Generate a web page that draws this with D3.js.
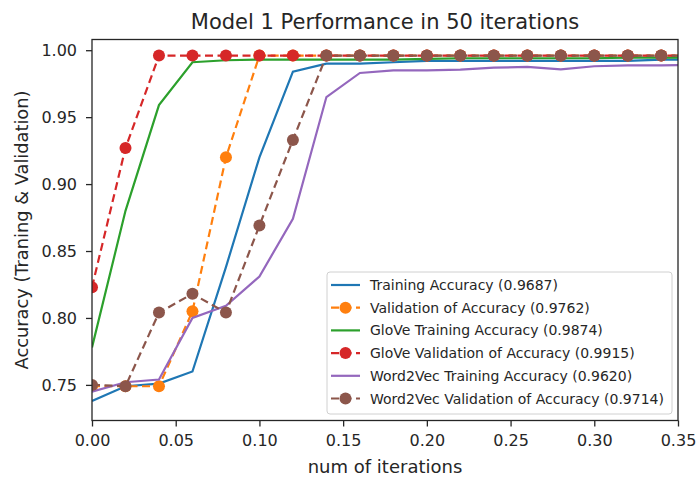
<!DOCTYPE html>
<html><head><meta charset="utf-8">
<script src="https://cdn.jsdelivr.net/npm/d3@7"></script>
<style>body{margin:0;background:#fff}svg{display:block}text{font-family:"DejaVu Sans",sans-serif;fill:#262626}</style>
</head><body><svg id="c" width="699" height="477"></svg>
<script>
const iterations = [0,0.02,0.04,0.06,0.08,0.10,0.12,0.14,0.16,0.18,0.20,0.22,0.24,0.26,0.28,0.30,0.32,0.34,0.36];
const trainingAcc = [0.738,0.749,0.751,0.760,0.838,0.920,0.984,0.990,0.990,0.991,0.992,0.992,0.992,0.992,0.992,0.992,0.992,0.993,0.993];
const validationAcc = [0.749,0.749,0.749,0.805,0.920,0.996,0.996,0.996,0.996,0.996,0.996,0.996,0.996,0.996,0.996,0.996,0.996,0.996,0.996];
const gloveTrainingAcc = [0.778,0.880,0.959,0.991,0.9925,0.993,0.993,0.993,0.993,0.993,0.9935,0.994,0.994,0.994,0.994,0.994,0.9945,0.9945,0.9945];
const gloveValidationAcc = [0.823,0.927,0.996,0.996,0.996,0.996,0.996,0.996,0.996,0.996,0.996,0.996,0.996,0.996,0.996,0.996,0.996,0.996,0.996];
const w2vTrainingAcc = [0.745,0.752,0.754,0.800,0.809,0.831,0.874,0.965,0.983,0.985,0.985,0.9855,0.987,0.9875,0.9857,0.988,0.9886,0.9886,0.989];
const w2vValidationAcc = [0.750,0.749,0.804,0.818,0.804,0.869,0.933,0.996,0.996,0.996,0.996,0.996,0.996,0.996,0.996,0.996,0.996,0.996,0.996];
const seriesNames = ["Training Accuracy (0.9687)","Validation of Accuracy (0.9762)","GloVe Training Accuracy (0.9874)","GloVe Validation of Accuracy (0.9915)","Word2Vec Training Accuracy (0.9620)","Word2Vec Validation of Accuracy (0.9714)"];
const xTicks = [0,0.05,0.10,0.15,0.20,0.25,0.30,0.35];
const yTicks = [0.75,0.80,0.85,0.90,0.95,1.00];

const colors = ["#1f77b4","#ff7f0e","#2ca02c","#d62728","#9467bd","#8c564b"];
const dashed = [false,true,false,true,false,true];
const seriesVals = [trainingAcc,validationAcc,gloveTrainingAcc,gloveValidationAcc,w2vTrainingAcc,w2vValidationAcc];

const svg = d3.select("#c");
const W=699,H=477, m={l:92,r:21,t:39.5,b:56.5};
const x = d3.scaleLinear().domain([0,0.35]).range([m.l,W-m.r]);
const y = d3.scaleLinear().domain([0.7234,1.008]).range([H-m.b,m.t]);

svg.append("defs").append("clipPath").attr("id","clip").append("rect")
  .attr("x",m.l).attr("y",m.t).attr("width",W-m.r-m.l).attr("height",H-m.b-m.t);

const g = svg.append("g").attr("clip-path","url(#clip)");
const line = d3.line().x(d=>x(d[0])).y(d=>y(d[1]));
seriesVals.forEach((vals,i)=>{
  const pts = iterations.map((t,j)=>[t,vals[j]]);
  g.append("path").attr("d",line(pts)).attr("fill","none").attr("stroke",colors[i])
   .attr("stroke-width",2.2).attr("stroke-dasharray",dashed[i]?"8,4.5":null);
  if(dashed[i]){
    g.selectAll(null).data(pts).enter().append("circle")
     .attr("cx",d=>x(d[0])).attr("cy",d=>y(d[1])).attr("r",6).attr("fill",colors[i]);
  }
});

// axes
const xa = svg.append("g").attr("transform",`translate(0,${H-m.b})`)
  .call(d3.axisBottom(x).tickValues(xTicks).tickFormat(d3.format(".2f")).tickSize(6).tickPadding(8));
const ya = svg.append("g").attr("transform",`translate(${m.l},0)`)
  .call(d3.axisLeft(y).tickValues(yTicks).tickFormat(d3.format(".2f")).tickSize(6).tickPadding(9));
[xa,ya].forEach(a=>{a.select(".domain").remove(); a.selectAll("line").attr("stroke","#262626").attr("stroke-width",1.3);
  a.selectAll("text").attr("font-size",16).attr("font-family","DejaVu Sans").attr("fill","#262626");});
svg.append("rect").attr("x",m.l).attr("y",m.t).attr("width",W-m.r-m.l).attr("height",H-m.b-m.t)
  .attr("fill","none").attr("stroke","#262626").attr("stroke-width",1.3);

svg.append("text").attr("x",(m.l+W-m.r)/2).attr("y",29).attr("text-anchor","middle").attr("font-size",21).text("Model 1 Performance in 50 iterations");
svg.append("text").attr("x",(m.l+W-m.r)/2).attr("y",473).attr("text-anchor","middle").attr("font-size",18).text("num of iterations");
svg.append("text").attr("transform",`translate(28,${(m.t+H-m.b)/2}) rotate(-90)`).attr("text-anchor","middle").attr("font-size",17.8).text("Accuracy (Traning & Validation)");

// legend
const lg = svg.append("g");
lg.append("rect").attr("x",327).attr("y",272).attr("width",345).attr("height",142).attr("rx",3)
  .attr("fill","#fff").attr("fill-opacity",0.8).attr("stroke","#d0d0d0");
seriesNames.forEach((n,i)=>{
  const yy = 285 + i*22.7;
  lg.append("line").attr("x1",331).attr("x2",360).attr("y1",yy).attr("y2",yy).attr("stroke",colors[i])
    .attr("stroke-width",2.2).attr("stroke-dasharray",dashed[i]?"8,4.5":null);
  if(dashed[i]) lg.append("circle").attr("cx",345.5).attr("cy",yy).attr("r",6).attr("fill",colors[i]);
  lg.append("text").attr("x",370).attr("y",yy+5).attr("font-size",14).text(n);
});
</script></body></html>
